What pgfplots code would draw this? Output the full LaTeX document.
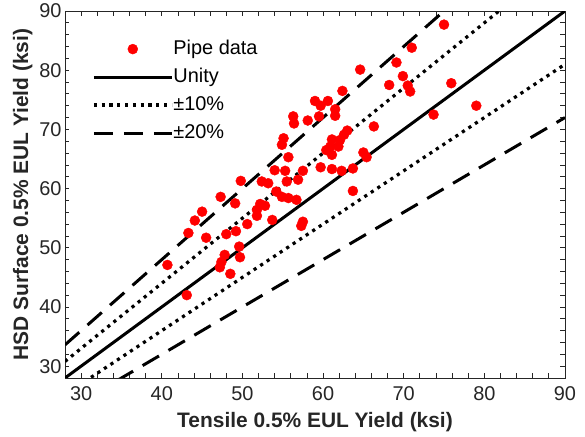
\documentclass[border=0pt]{standalone}
\usepackage{fontspec}
\setmainfont{Liberation Sans}
\usepackage{pgfplots}
\pgfplotsset{compat=1.18}
\definecolor{axgray}{HTML}{262626}
\definecolor{ptred}{RGB}{255,0,0}

% legend glyphs: a long line sample, and a single centred marker
\pgfplotsset{
  lineleg/.style={legend image code/.code={\draw[##1] (0bp,0bp) -- (78bp,0bp);}},
  markleg/.style={legend image code/.code={\draw[##1] plot coordinates {(39bp,0bp)};}},
  dotsty/.style={black, line width=3.2bp, dash pattern=on 3.2bp off 4.6bp},
  dashsty/.style={black, line width=3bp, dash pattern=on 19bp off 11bp},
}

% Tensile vs. HSD surface yield strength, ksi
\pgfplotstableread{
x y
75.0 87.7
71.0 83.8
69.1 81.3
69.9 79.0
70.5 77.4
70.8 76.4
68.2 77.5
64.6 80.1
75.9 77.8
79.0 74.0
73.7 72.5
66.3 70.5
62.4 76.5
59.0 74.8
59.7 74.0
60.6 74.8
61.5 73.4
61.5 72.3
59.5 72.2
56.3 72.2
56.4 71.0
58.1 71.5
63.0 69.8
62.6 69.1
55.1 68.5
54.9 67.4
61.1 68.3
62.1 68.2
60.9 67.1
61.9 67.1
60.4 66.5
61.1 65.7
65.0 66.1
65.4 65.3
55.7 65.3
54.0 63.1
55.3 63.0
57.5 63.0
59.7 63.6
61.1 63.3
62.3 63.0
63.7 63.4
56.9 61.5
55.5 61.2
54.2 59.5
54.9 58.6
55.7 58.4
56.7 58.1
63.7 59.6
57.5 54.4
57.3 53.7
53.7 54.7
49.8 61.3
52.4 61.2
53.2 60.9
47.3 58.6
49.1 57.5
52.2 57.4
52.8 57.1
51.8 56.4
51.8 55.4
45.0 56.1
44.1 54.6
50.6 54.0
43.3 52.5
45.5 51.7
48.0 52.3
49.2 52.8
49.6 50.2
49.7 48.4
47.8 48.8
47.4 47.6
47.2 46.7
48.5 45.6
40.7 47.1
43.1 42.0
}\pipedata

\begin{document}
\begin{tikzpicture}
\useasboundingbox (0,0) rectangle (585bp,437bp);
\begin{axis}[
  at={(65bp,59bp)}, anchor=south west,
  scale only axis, width=500bp, height=367bp,
  xmin=28, xmax=90, ymin=28, ymax=90,
  xtick={30,40,...,90}, ytick={30,40,...,90},
  minor xtick={28,30,...,90}, minor ytick={28,30,...,90},
  tick align=inside,
  major tick length=4.5bp, minor tick length=4.5bp,
  axis line style={axgray, line width=0.8bp},
  every tick/.style={axgray, line width=0.8bp},
  /pgf/number format/assume math mode=true,
  ticklabel style={font=\fontsize{20}{24}\selectfont, text=axgray},
  xticklabel style={yshift=-5bp},
  xlabel={Tensile 0.5\% EUL Yield (ksi)},
  ylabel={HSD Surface 0.5\% EUL Yield (ksi)},
  label style={font=\fontsize{21}{25}\selectfont\bfseries, text=axgray},
  xlabel style={yshift=-5bp},
  legend cell align=left,
  legend style={draw=none, fill=none, at={(0.054,0.924)}, anchor=north west,
    font=\fontsize{20}{24}\selectfont, inner sep=0pt, row sep=8bp,
    nodes={inner sep=0pt, text=black, text height=15bp, text depth=5bp},
    /tikz/every even column/.append style={column sep=6bp}},
]
\addplot[only marks, mark=*, mark size=5bp, color=ptred, draw=none,
  mark options={fill=ptred, draw=none}, markleg]
  table {\pipedata};
\addlegendentry{Pipe data}

\addplot[black, line width=3bp, lineleg] coordinates {(28,28) (90,90)};
\addlegendentry{Unity}

\addplot[dotsty, lineleg] coordinates {(28,30.8) (90,99)};
\addlegendentry{±10\%}
\addplot[dotsty, forget plot] coordinates {(28,25.2) (90,81)};

\addplot[dashsty, lineleg] coordinates {(28,33.6) (90,108)};
\addlegendentry{±20\%}
\addplot[dashsty, forget plot] coordinates {(28,22.4) (90,72)};
\end{axis}
\end{tikzpicture}
\end{document}
